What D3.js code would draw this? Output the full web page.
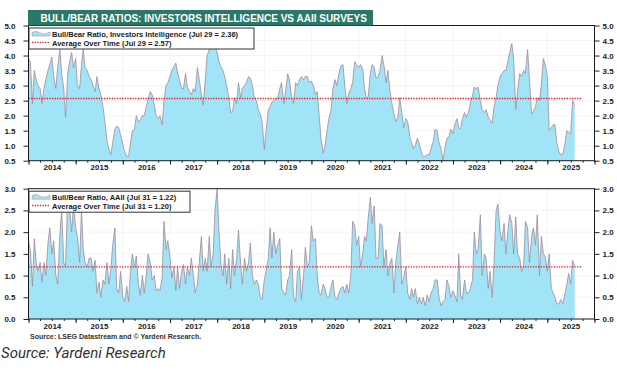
<!DOCTYPE html>
<meta charset="utf-8">
<style>
body { margin: 0; background: #fff; }
svg { display: block; font-family: "Liberation Sans", Arial, sans-serif; }
.axis text { font-size: 8px; font-weight: bold; fill: #222; }
.axis line { stroke: #222; }
.axis path { display: none; }
.grid line { stroke: #ececec; stroke-width: 0.6; }
.frame { fill: none; stroke: #1a1a1a; stroke-width: 1; }
.area { fill: #a2e4f7; }
.line { fill: none; stroke: #9d8b9b; stroke-width: 0.8; }
.avg { stroke: #e01e1e; stroke-width: 1.3; stroke-dasharray: 1.3,1.3; }
.legend rect { fill: #fff; stroke: #333; stroke-width: 1; }
.legend text { font-size: 7.5px; font-weight: bold; fill: #1a1a1a; }
</style>
<body>
<svg width="617" height="375"></svg>
<script src="https://d3js.org/d3.v7.min.js"></script>
<script>

// year labels on the time axis
var years = [2014, 2015, 2016, 2017, 2018, 2019, 2020, 2021, 2022, 2023, 2024, 2025];

// y tick labels
var iiTicks = [0.5, 1.0, 1.5, 2.0, 2.5, 3.0, 3.5, 4.0, 4.5, 5.0];
var aaiiTicks = [0.0, 0.5, 1.0, 1.5, 2.0, 2.5, 3.0];

// Investors Intelligence bull/bear ratio, read twice a month (1st, 15th) from Jan 2014
var iiValues = [
  3.9, 3.8, 2.4, 3.5, 3.2, 3.0, 2.9, 2.4, 2.9, 3.2, 3.5, 3.7, 3.95, 3.3, 2.9, 3.6, 4.2, 3.4, 2.9, 1.95, 3.4, 3.8, 4.1, 3.6,
  3.9, 3.0, 2.9, 3.7, 4.2, 3.6, 3.5, 3.3, 3.2, 3.0, 2.8, 3.3, 2.9, 2.7, 2.3, 1.8, 1.15, 0.9, 0.7, 1.1, 1.55, 1.65, 1.6, 1.35,
  1.05, 0.8, 0.65, 0.65, 1.1, 1.5, 1.55, 2.0, 1.8, 1.85, 2.0, 2.0, 2.3, 2.55, 2.8, 2.7, 2.35, 2.0, 1.9, 2.0, 1.7, 2.5, 3.0, 3.1,
  3.3, 3.5, 3.65, 3.75, 3.4, 3.2, 2.9, 2.9, 3.4, 2.95, 2.8, 2.7, 2.9, 2.8, 3.6, 3.2, 2.7, 2.35, 3.2, 4.0, 4.2, 4.3, 4.45, 4.3,
  4.1, 3.8, 3.6, 3.5, 3.3, 3.0, 2.6, 2.1, 2.15, 2.6, 2.4, 3.1, 2.6, 2.9, 3.0, 3.1, 3.3, 3.25, 3.0, 2.6, 2.5, 2.2, 2.05, 1.8,
  0.88, 1.5, 2.2, 2.3, 2.45, 2.5, 2.55, 2.6, 2.9, 3.1, 2.4, 2.8, 3.4, 3.2, 2.6, 2.4, 3.1, 3.0, 3.2, 3.3, 3.2, 3.3, 3.3, 3.1,
  3.15, 3.0, 2.7, 2.8, 2.0, 1.25, 0.75, 1.0, 1.5, 1.9, 2.2, 2.9, 3.2, 3.0, 3.4, 3.65, 3.7, 3.0, 2.4, 2.75, 2.9, 3.1, 3.8, 3.7,
  3.6, 3.7, 3.55, 2.9, 2.6, 2.6, 3.4, 3.7, 3.6, 3.25, 3.3, 3.5, 4.0, 3.7, 3.1, 3.5, 2.8, 2.4, 2.05, 1.8, 1.95, 2.6, 2.1, 1.6,
  1.9, 1.8, 1.3, 1.1, 0.9, 1.0, 1.25, 1.05, 0.8, 0.62, 0.65, 0.7, 0.7, 0.9, 1.15, 1.55, 1.5, 1.1, 0.9, 0.52, 0.95, 1.25, 1.3, 1.55,
  1.4, 1.7, 1.9, 1.6, 1.55, 1.9, 2.1, 1.95, 2.1, 2.4, 2.65, 2.95, 2.9, 2.95, 2.5, 2.2, 2.1, 2.2, 1.95, 1.85, 1.75, 2.3, 2.6, 3.0,
  3.3, 3.4, 3.5, 3.5, 3.8, 4.1, 4.4, 3.9, 2.2, 2.8, 3.4, 3.3, 3.5, 3.4, 4.2, 3.2, 2.05, 2.15, 2.3, 2.6, 2.5, 3.0, 3.9, 3.7,
  3.3, 1.5, 1.6, 1.7, 1.7, 1.1, 0.8, 0.7, 0.72, 1.0, 1.5, 1.45, 1.4, 2.5, 2.36
];

// AAII bull/bear ratio, same dates
var aaiiValues = [
  1.8, 1.6, 0.75, 1.85, 1.3, 1.1, 1.3, 0.85, 1.3, 1.0, 1.75, 2.1, 1.5, 1.8, 1.0, 0.8, 1.95, 2.5, 1.3, 1.2, 2.9, 2.6, 2.0, 2.6,
  2.1, 1.9, 1.3, 2.5, 1.6, 1.3, 1.2, 1.4, 1.4, 1.1, 1.35, 0.6, 0.85, 0.5, 0.9, 0.8, 1.3, 0.8, 1.15, 1.7, 2.1, 0.7, 0.6, 1.1,
  0.5, 0.4, 0.75, 0.4, 1.1, 1.5, 1.2, 1.45, 0.8, 0.55, 1.0, 0.6, 1.0, 1.5, 1.3, 0.9, 1.0, 0.65, 0.7, 0.65, 0.95, 2.25, 1.6, 1.8,
  1.4, 0.95, 1.2, 0.65, 1.2, 0.7, 1.1, 1.25, 0.8, 1.2, 1.0, 1.4, 1.0, 0.6, 0.8, 1.3, 1.9, 1.1, 1.4, 1.1, 1.9, 1.2, 1.5, 2.5,
  3.0, 2.0, 1.2, 1.0, 1.5, 0.8, 1.4, 0.7, 1.6, 1.0, 1.4, 2.05, 1.3, 0.8, 1.4, 1.1, 1.3, 1.75, 1.0, 0.8, 0.9, 0.8, 0.5, 0.45,
  0.9, 1.1, 1.4, 2.1, 1.4, 2.0, 1.5, 1.7, 1.85, 0.7, 0.6, 0.55, 0.9, 1.0, 1.6, 0.5, 0.4, 1.1, 1.2, 0.45, 1.0, 1.65, 1.2, 1.3,
  2.15, 1.8, 1.85, 1.0, 0.6, 0.55, 0.8, 0.7, 0.5, 0.5, 0.75, 0.9, 0.5, 0.45, 0.6, 0.7, 0.75, 0.6, 0.8, 0.6, 1.0, 2.25, 2.15, 1.7,
  1.9, 1.2, 1.5, 1.9, 1.8, 2.3, 2.8, 2.2, 2.6, 1.4, 1.4, 2.2, 2.15, 1.2, 1.6, 1.0, 1.3, 1.4, 0.6, 1.3, 1.7, 2.0, 0.8, 0.95,
  1.2, 0.6, 0.45, 0.7, 0.5, 0.7, 0.35, 0.5, 0.35, 0.5, 0.3, 0.55, 0.4, 0.6, 0.7, 0.9, 0.9, 0.5, 0.3, 0.4, 0.45, 0.9, 0.75, 0.5,
  0.65, 0.55, 0.4, 1.5, 0.55, 0.45, 0.9, 0.6, 0.6, 0.7, 0.9, 2.0, 1.5, 1.6, 2.4, 1.0, 1.5, 1.4, 0.7, 1.1, 0.5, 1.3, 2.5, 2.65,
  2.0, 1.8, 2.2, 1.5, 2.0, 2.4, 2.2, 1.5, 2.35, 1.5, 1.4, 1.1, 1.2, 2.25, 2.1, 1.3, 1.9, 2.1, 1.7, 2.4, 1.0, 1.9, 1.5, 1.45,
  1.1, 1.5, 0.7, 0.6, 0.5, 0.35, 0.35, 0.45, 0.35, 0.55, 0.8, 1.05, 0.8, 1.35, 1.22
];

var iiAverage = 2.57, aaiiAverage = 1.20;
var avgEnd = "2025-09-20";

var titleText = "BULL/BEAR RATIOS: INVESTORS INTELLIGENCE VS AAII SURVEYS";
var iiLegend = ["Bull/Bear Ratio, Investors Intelligence (Jul 29 = 2.36)", "Average Over Time (Jul 29 = 2.57)"];
var aaiiLegend = ["Bull/Bear Ratio, AAII (Jul 31 = 1.22)", "Average Over Time (Jul 31 = 1.20)"];

// dates: 1st and 15th of each month
var dates = [];
years.forEach(function(yr) {
  for (var m = 0; m < 12; m++) { dates.push(new Date(yr, m, 1)); dates.push(new Date(yr, m, 15)); }
});

var svg = d3.select("svg");
var parse = d3.timeParse("%Y-%m-%d");

var x = d3.scaleTime()
    .domain([new Date(2014, 0, 1), new Date(2026, 0, 1)])
    .range([28.5, 594.5]);

function panel(cfg) {
  var y = d3.scaleLinear().domain(cfg.domain).range([cfg.bottom, cfg.top]);
  var data = cfg.values.map(function(v, i) { return {date: dates[i], value: v}; });
  var g = svg.append("g");

  var clipId = "clip" + cfg.id;
  g.append("clipPath").attr("id", clipId).append("rect")
      .attr("x", x.range()[0]).attr("y", cfg.top)
      .attr("width", x.range()[1] - x.range()[0]).attr("height", cfg.bottom - cfg.top);

  // faint grid
  g.append("g").attr("class", "grid")
    .selectAll("line").data(x.ticks(d3.timeYear)).enter().append("line")
      .attr("x1", function(d) { return x(d); }).attr("x2", function(d) { return x(d); })
      .attr("y1", cfg.top).attr("y2", cfg.bottom);
  g.append("g").attr("class", "grid")
    .selectAll("line").data(cfg.ticks).enter().append("line")
      .attr("x1", x.range()[0]).attr("x2", x.range()[1])
      .attr("y1", function(d) { return y(d); }).attr("y2", function(d) { return y(d); });

  var plot = g.append("g").attr("clip-path", "url(#" + clipId + ")");
  plot.append("path").datum(data).attr("class", "area")
      .attr("d", d3.area().x(function(d) { return x(d.date); }).y0(cfg.bottom).y1(function(d) { return y(d.value); }));
  plot.append("path").datum(data).attr("class", "line")
      .attr("d", d3.line().x(function(d) { return x(d.date); }).y(function(d) { return y(d.value); }));
  plot.append("line").attr("class", "avg")
      .attr("x1", x.range()[0]).attr("x2", x(parse(avgEnd)))
      .attr("y1", y(cfg.avg)).attr("y2", y(cfg.avg));

  g.append("rect").attr("class", "frame")
      .attr("x", x.range()[0]).attr("y", cfg.top)
      .attr("width", x.range()[1] - x.range()[0]).attr("height", cfg.bottom - cfg.top);

  // y axes both sides
  g.append("g").attr("class", "axis")
      .attr("transform", "translate(" + x.range()[0] + ",0)")
      .call(d3.axisLeft(y).tickValues(cfg.ticks).tickFormat(d3.format(".1f")).tickSize(5).tickPadding(8));
  g.append("g").attr("class", "axis")
      .attr("transform", "translate(" + x.range()[1] + ",0)")
      .call(d3.axisRight(y).tickValues(cfg.ticks).tickFormat(d3.format(".1f")).tickSize(5).tickPadding(3));

  // x axis: year ticks, quarter minor ticks, labels mid-year
  g.append("g").attr("class", "axis")
      .attr("transform", "translate(0," + cfg.bottom + ")")
      .call(d3.axisBottom(x).ticks(d3.timeMonth.every(3)).tickFormat("").tickSize(2));
  g.append("g").attr("class", "axis")
      .attr("transform", "translate(0," + cfg.bottom + ")")
      .call(d3.axisBottom(x).ticks(d3.timeYear).tickFormat("").tickSize(4));
  g.append("g").attr("class", "axis")
      .attr("transform", "translate(0," + cfg.bottom + ")")
      .call(d3.axisBottom(x).tickValues(years.map(function(yr) { return new Date(yr, 6, 1); }))
        .tickFormat(d3.timeFormat("%Y")).tickSize(0).tickPadding(4));

  // legend
  var lg = g.append("g").attr("class", "legend");
  lg.append("rect").attr("x", 29).attr("y", cfg.top + 2.5).attr("width", cfg.legendW).attr("height", 21);
  var sy = cfg.top + 5;
  lg.append("path")
      .attr("d", "M32," + (sy + 5.5) + " L32," + (sy + 2) + " Q36," + (sy - 0.5) + " 40," + (sy + 2.5) +
        " Q45," + (sy + 5) + " 50," + (sy + 1.5) + " L50," + (sy + 5.5) + " Z")
      .attr("fill", "#a2e4f7").attr("stroke", "#9d8b9b").attr("stroke-width", 0.5);
  lg.append("line").attr("class", "avg")
      .attr("x1", 32).attr("x2", 50).attr("y1", cfg.top + 16.8).attr("y2", cfg.top + 16.8);
  lg.selectAll("text").data(cfg.legend).enter().append("text")
      .attr("x", 52).attr("y", function(d, i) { return cfg.top + 11 + i * 9; })
      .text(function(d) { return d; });
}

panel({id: 1, values: iiValues, domain: [0.5, 5.0], ticks: iiTicks, top: 25.5, bottom: 160.7,
       avg: iiAverage, legend: iiLegend, legendW: 225});
panel({id: 2, values: aaiiValues, domain: [0, 3.0], ticks: aaiiTicks, top: 188.7, bottom: 319,
       avg: aaiiAverage, legend: aaiiLegend, legendW: 161});

// title banner
svg.append("rect").attr("x", 28).attr("y", 10).attr("width", 345).attr("height", 15.5).attr("fill", "#2a7868");
svg.append("text").attr("x", 40.5).attr("y", 21.6)
    .attr("font-size", "10px").attr("font-weight", "bold").attr("fill", "#fff")
    .text(titleText);

svg.append("text").attr("x", 30).attr("y", 338.5)
    .attr("font-size", "7px").attr("font-weight", "bold").attr("fill", "#333")
    .text("Source: LSEG Datastream and \u00a9 Yardeni Research.");

svg.append("text").attr("x", 1).attr("y", 357.5)
    .attr("font-family", "Roboto, 'Liberation Sans', sans-serif")
    .attr("font-size", "15px").attr("font-style", "italic").attr("fill", "#333")
    .text("Source: Yardeni Research");

</script>
</body>
